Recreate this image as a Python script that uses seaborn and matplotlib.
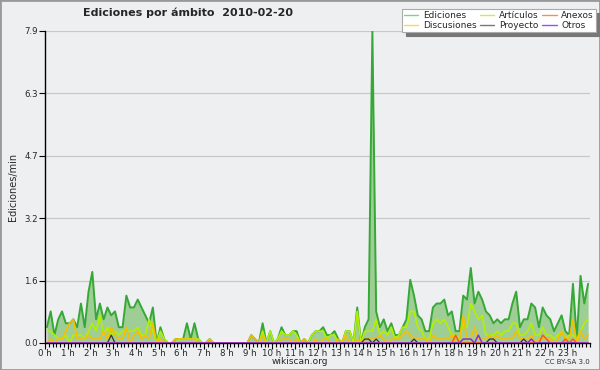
import numpy as np
import pandas as pd
import matplotlib
matplotlib.use("Agg")
import matplotlib.pyplot as plt
import seaborn as sns
from matplotlib.patches import Rectangle
from matplotlib.lines import Line2D

# ---- data (edits per minute, 10-minute buckets, 144 per day) ----
ediciones = [
    0.4, 0.8, 0.2, 0.6, 0.8, 0.5, 0.5, 0.6, 0.4, 1.0, 0.4, 1.3, 1.8, 0.6, 1.0, 0.6, 0.9, 0.7, 0.8, 0.4,
    0.4, 1.2, 0.9, 0.9, 1.1, 0.9, 0.7, 0.5, 0.9, 0.0, 0.4, 0.1, 0.0, 0.0, 0.1, 0.1, 0.1, 0.5, 0.1, 0.5,
    0.1, 0.0, 0.0, 0.1, 0.0, 0.0, 0.0, 0.0, 0.0, 0.0, 0.0, 0.0, 0.0, 0.0, 0.2, 0.1, 0.0, 0.5, 0.0, 0.3,
    0.0, 0.1, 0.4, 0.2, 0.2, 0.3, 0.3, 0.0, 0.1, 0.0, 0.2, 0.3, 0.3, 0.4, 0.2, 0.2, 0.3, 0.1, 0.0, 0.3,
    0.3, 0.0, 0.9, 0.0, 0.4, 0.6, 7.9, 0.8, 0.4, 0.6, 0.3, 0.5, 0.2, 0.2, 0.4, 0.6, 1.6, 1.2, 0.7, 0.6,
    0.3, 0.3, 0.9, 1.0, 1.0, 1.1, 0.7, 0.8, 0.3, 0.3, 1.2, 1.1, 1.9, 1.0, 1.3, 1.1, 0.8, 0.7, 0.5, 0.6,
    0.5, 0.6, 0.6, 1.0, 1.3, 0.4, 0.6, 0.6, 1.0, 0.9, 0.4, 0.9, 0.7, 0.6, 0.3, 0.5, 0.7, 0.3, 0.2, 1.5,
    0.1, 1.7, 1.0, 1.5,
]
articulos = [
    0.3, 0.3, 0.2, 0.1, 0.1, 0.2, 0.0, 0.2, 0.2, 0.2, 0.1, 0.3, 0.5, 0.3, 0.7, 0.2, 0.4, 0.2, 0.3, 0.2,
    0.3, 0.3, 0.3, 0.3, 0.4, 0.2, 0.2, 0.6, 0.3, 0.0, 0.3, 0.1, 0.0, 0.0, 0.0, 0.1, 0.1, 0.1, 0.1, 0.1,
    0.1, 0.0, 0.0, 0.0, 0.0, 0.0, 0.0, 0.0, 0.0, 0.0, 0.0, 0.0, 0.0, 0.0, 0.0, 0.0, 0.0, 0.3, 0.0, 0.3,
    0.0, 0.1, 0.3, 0.2, 0.2, 0.3, 0.2, 0.0, 0.0, 0.0, 0.2, 0.3, 0.3, 0.3, 0.1, 0.2, 0.2, 0.0, 0.0, 0.3,
    0.3, 0.0, 0.8, 0.0, 0.3, 0.3, 0.3, 0.6, 0.2, 0.3, 0.2, 0.4, 0.1, 0.2, 0.4, 0.4, 0.8, 0.8, 0.4, 0.3,
    0.1, 0.1, 0.5, 0.6, 0.5, 0.6, 0.4, 0.2, 0.2, 0.1, 0.5, 0.4, 1.0, 0.8, 0.6, 0.7, 0.2, 0.2, 0.2, 0.3,
    0.2, 0.3, 0.3, 0.5, 0.5, 0.2, 0.2, 0.3, 0.5, 0.2, 0.2, 0.4, 0.2, 0.2, 0.1, 0.2, 0.3, 0.1, 0.2, 0.2,
    0.1, 0.3, 0.5, 0.6,
]
discusiones = [
    0.0, 0.1, 0.0, 0.1, 0.1, 0.3, 0.5, 0.6, 0.1, 0.1, 0.1, 0.2, 0.1, 0.1, 0.1, 0.3, 0.1, 0.4, 0.2, 0.1,
    0.1, 0.4, 0.0, 0.2, 0.3, 0.1, 0.2, 0.1, 0.5, 0.0, 0.1, 0.0, 0.0, 0.0, 0.1, 0.1, 0.1, 0.1, 0.1, 0.1,
    0.0, 0.0, 0.0, 0.1, 0.0, 0.0, 0.0, 0.0, 0.0, 0.0, 0.0, 0.0, 0.0, 0.0, 0.2, 0.1, 0.0, 0.2, 0.0, 0.0,
    0.0, 0.0, 0.1, 0.1, 0.1, 0.0, 0.1, 0.0, 0.1, 0.0, 0.0, 0.1, 0.0, 0.1, 0.1, 0.0, 0.0, 0.1, 0.0, 0.2,
    0.0, 0.0, 0.1, 0.0, 0.1, 0.1, 0.1, 0.1, 0.2, 0.1, 0.0, 0.1, 0.1, 0.1, 0.2, 0.3, 0.2, 0.1, 0.1, 0.1,
    0.1, 0.0, 0.2, 0.1, 0.1, 0.1, 0.1, 0.2, 0.0, 0.1, 0.7, 0.1, 0.1, 0.4, 0.1, 0.1, 0.1, 0.2, 0.1, 0.2,
    0.1, 0.1, 0.1, 0.1, 0.3, 0.1, 0.1, 0.1, 0.2, 0.0, 0.1, 0.1, 0.1, 0.1, 0.0, 0.1, 0.3, 0.1, 0.1, 0.6,
    0.0, 0.3, 0.1, 0.2,
]
proyecto = [0.0] * 144
for _i, _v in [(17, 0.2), (84, 0.1), (85, 0.1), (87, 0.1), (97, 0.1), (117, 0.1), (118, 0.1), (126, 0.1)]:
    proyecto[_i] = _v
anexos = [0.0] * 144
for _i, _v in [(108, 0.2), (131, 0.2), (132, 0.1), (137, 0.1), (139, 0.1)]:
    anexos[_i] = _v
otros = [0.0] * 144
for _i, _v in [(110, 0.1), (111, 0.1), (112, 0.1), (114, 0.2), (128, 0.1)]:
    otros[_i] = _v

hour_labels = [f"{h} h" for h in range(24)]
ytick_labels = ["0.0", "1.6", "3.2", "4.7", "6.3", "7.9"]
title = "Ediciones por ámbito  2010-02-20"

# ---- style ----
sns.set_theme(style="white")
plt.rcParams["font.family"] = ["DejaVu Sans"]
BG = "#eeeff0"

fig = plt.figure(figsize=(6.0, 3.7), dpi=100, facecolor=BG)
ax = fig.add_axes([45 / 600, 1 - 343 / 370, 545 / 600, 312 / 370])
ax.set_facecolor(BG)

x = np.arange(144) + 0.5
df = pd.DataFrame({"x": x, "Ediciones": ediciones, "Artículos": articulos,
                   "Discusiones": discusiones, "Proyecto": proyecto,
                   "Anexos": anexos, "Otros": otros})

ax.fill_between(df["x"], 0, df["Ediciones"], color="#9fcd96", zorder=2, linewidth=0)
series = [
    ("Ediciones", "#35a835", 1.4, "#77d977"),
    ("Discusiones", "#f8be00", 1.2, "#ffd84a"),
    ("Artículos", "#b4f000", 1.2, "#c8f040"),
    ("Proyecto", "#333333", 0.9, "#777777"),
    ("Anexos", "#ff5a10", 1.1, "#ff8a50"),
    ("Otros", "#8a2be2", 1.1, "#9b4dff"),
]
zorders = {"Ediciones": 3, "Artículos": 4, "Discusiones": 5, "Proyecto": 6, "Anexos": 7, "Otros": 8}
for name, col, lw, _ in series:
    sns.lineplot(data=df, x="x", y=name, ax=ax, color=col, linewidth=lw,
                 zorder=zorders[name], legend=False)

ax.set_xlim(0, 144)
ax.set_ylim(0, 7.9)
yt = np.linspace(0, 7.9, 6)
ax.set_yticks(yt)
ax.set_yticklabels(ytick_labels)
ax.set_xticks(np.arange(0, 144, 6))
ax.set_xticklabels(hour_labels)
ax.set_xticks(np.arange(0, 145, 1), minor=True)
for y in yt[1:]:
    ax.axhline(y, color="#c8c8c8", linewidth=0.9, zorder=1)

ax.tick_params(axis="x", which="major", direction="out", length=4, width=0.8,
               labelsize=6.2, pad=0, color="black", bottom=True)
ax.tick_params(axis="x", which="minor", direction="out", length=3, width=0.8,
               color="black", bottom=True)
ax.tick_params(axis="y", which="major", direction="out", length=4, width=0.8,
               labelsize=6.2, pad=1, color="black", left=True)
for s in ["top", "right"]:
    ax.spines[s].set_visible(False)
for s in ["left", "bottom"]:
    ax.spines[s].set_color("black")
    ax.spines[s].set_linewidth(1.0)
ax.set_xlabel("")
ax.set_ylabel("Ediciones/min", fontsize=7, labelpad=6)
ax.yaxis.set_label_coords(-0.05, 0.5)

fig.text(188 / 600, 1 - 13 / 370, title, ha="center", va="center",
         fontsize=8, fontweight="bold")
fig.text(300 / 600, 1 - 362 / 370, "wikiscan.org", ha="center", va="center", fontsize=6.5)
fig.text(590 / 600, 1 - 362 / 370, "CC BY-SA 3.0", ha="right", va="center",
         fontsize=5, color="#333333")

# legend
handles = [Line2D([], [], color=lc, linewidth=1.0) for _, _, _, lc in series]
labels = [n for n, _, _, _ in series]
leg = fig.legend(handles, labels, ncol=3, loc="upper right",
                 bbox_to_anchor=(596 / 600, 1 - 9 / 370), fontsize=6.5,
                 frameon=True, fancybox=False,
                 shadow={"color": "#777777", "alpha": 1, "ox": 3, "oy": -3},
                 handlelength=1.6, handletextpad=0.5, columnspacing=0.4,
                 labelspacing=0.05, borderpad=0.25, borderaxespad=0)
leg.get_frame().set_facecolor("white")
leg.get_frame().set_edgecolor("#aaaaaa")
leg.get_frame().set_linewidth(0.8)

fig.patches.append(Rectangle((0, 0), 1, 1, transform=fig.transFigure, fill=False,
                             edgecolor="#999999", linewidth=2))

fig.savefig("out.png", dpi=100, facecolor=BG)
